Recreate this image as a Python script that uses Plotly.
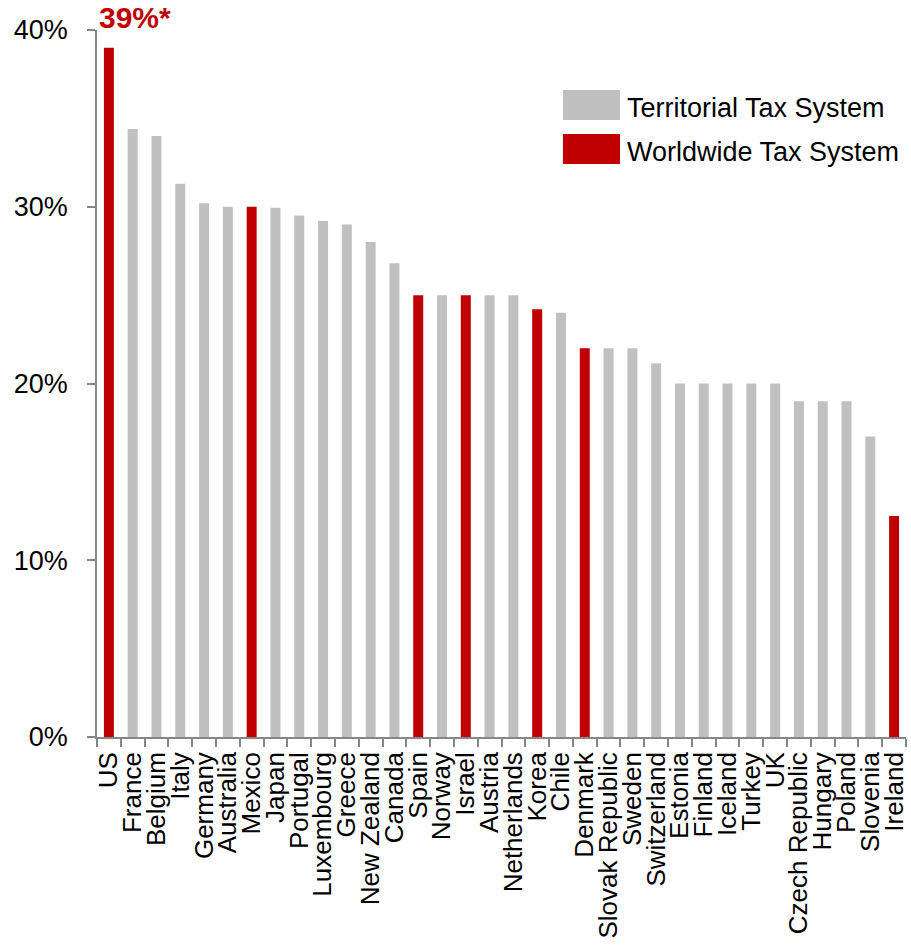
import plotly.graph_objects as go

countries = ["US", "France", "Belgium", "Italy", "Germany", "Australia", "Mexico", "Japan",
             "Portugal", "Luxembourg", "Greece", "New Zealand", "Canada", "Spain", "Norway",
             "Israel", "Austria", "Netherlands", "Korea", "Chile", "Denmark", "Slovak Republic",
             "Sweden", "Switzerland", "Estonia", "Finland", "Iceland", "Turkey", "UK",
             "Czech Republic", "Hungary", "Poland", "Slovenia", "Ireland"]
rates = [39.0, 34.4, 34.0, 31.3, 30.2, 30.0, 30.0, 29.95, 29.5, 29.2, 29.0, 28.0, 26.8, 25.0, 25.0,
         25.0, 25.0, 25.0, 24.2, 24.0, 22.0, 22.0, 22.0, 21.15, 20.0, 20.0, 20.0, 20.0, 20.0,
         19.0, 19.0, 19.0, 17.0, 12.5]
worldwide = ["US", "Mexico", "Spain", "Israel", "Korea", "Denmark", "Ireland"]
series_names = ["Territorial Tax System", "Worldwide Tax System"]
series_colors = ["#C0C0C0", "#C00000"]
y_ticks = [0, 10, 20, 30, 40]
y_tick_labels = ["0%", "10%", "20%", "30%", "40%"]

FONT = "Liberation Sans, Arial, sans-serif"
FS = 27

fig = go.Figure()
terr_x = [c for c in countries if c not in worldwide]
terr_y = [r for c, r in zip(countries, rates) if c not in worldwide]
ww_x = [c for c in countries if c in worldwide]
ww_y = [r for c, r in zip(countries, rates) if c in worldwide]

fig.add_trace(go.Bar(x=terr_x, y=terr_y, name=series_names[0], width=0.42,
                     marker=dict(color=series_colors[0], line=dict(width=0)), showlegend=False))
fig.add_trace(go.Bar(x=ww_x, y=ww_y, name=series_names[1], width=0.42,
                     marker=dict(color=series_colors[1], line=dict(width=0)), showlegend=False))

fig.update_layout(
    width=911, height=945,
    margin=dict(l=97, r=5, t=30, b=208),
    plot_bgcolor="white", paper_bgcolor="white",
    barmode="overlay",
    font=dict(family=FONT, size=FS, color="#000000"),
    xaxis=dict(type="category", categoryorder="array", categoryarray=countries,
               tickmode="array", tickvals=countries, ticktext=countries, automargin=False,
               tickangle=-90, showline=True, linecolor="#868686", linewidth=1.5,
               ticks="outside", tickson="boundaries", ticklen=8, tickcolor="#868686", tickwidth=1.5,
               showgrid=False, ticklabelstandoff=3, tickfont=dict(size=26)),
    yaxis=dict(range=[0, 40], tickmode="array", tickvals=y_ticks, ticktext=y_tick_labels,
               automargin=False,
               showline=True, linecolor="#868686", linewidth=1.5, ticks="outside", ticklen=8,
               tickcolor="#868686", tickwidth=1.5, showgrid=False, zeroline=False,
               ticklabelstandoff=14, tickfont=dict(size=FS)),
)

# "39%*" callout
fig.add_annotation(x=0, xref="paper", xanchor="left", y=1.018, yref="paper", yanchor="middle",
                   text="<b>39%*</b>", showarrow=False,
                   font=dict(family=FONT, size=30, color="#C00000"))

# Custom legend with large swatches
legend_rows = [(0.915, 0.8727), (0.853, 0.8105)]
for (y1, y0), name, color in zip(legend_rows, series_names, series_colors):
    fig.add_shape(type="rect", xref="paper", yref="paper", x0=0.576, x1=0.6465, y0=y0, y1=y1,
                  fillcolor=color, line=dict(width=0))
    fig.add_annotation(x=0.6527, xref="paper", xanchor="left", y=(y0 + y1) / 2 - 0.004, yref="paper",
                       yanchor="middle", text=name, showarrow=False,
                       font=dict(family=FONT, size=27, color="#000000"))

fig.write_html("out.html")
